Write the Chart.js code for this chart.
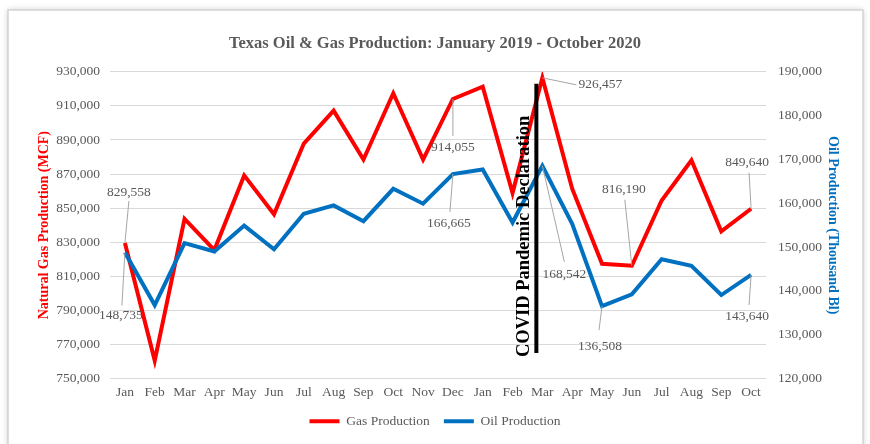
<!DOCTYPE html>
<html>
<head>
<meta charset="utf-8">
<title>Texas Oil & Gas Production</title>
<script src="https://cdn.jsdelivr.net/npm/chart.js@4.4.1/dist/chart.umd.min.js"></script>
<style>
  html, body { margin: 0; padding: 0; background: #fff; }
  #chart { display: block; }
</style>
</head>
<body>
<canvas id="chart" width="870" height="444"></canvas>
<script>
// # Texas oil & gas production, Jan 2019 - Oct 2020

const months = ['Jan', 'Feb', 'Mar', 'Apr', 'May', 'Jun', 'Jul', 'Aug', 'Sep', 'Oct', 'Nov', 'Dec',
    'Jan', 'Feb', 'Mar', 'Apr', 'May', 'Jun', 'Jul', 'Aug', 'Sep', 'Oct'];

// natural gas, MCF (left axis)
const gasProduction = [829558, 760500, 843700, 825400, 869200, 846400, 887900, 907200, 878500, 917400, 878500, 914055,
    921300, 858900, 926457, 861400, 817300, 816190, 854500, 878100, 836400, 849640];

// oil, thousand barrels (right axis)
const oilProduction = [148735, 136750, 150900, 149000, 154900, 149500, 157600, 159500, 155900, 163300, 159900, 166665,
    167700, 155600, 168542, 155300, 136508, 139200, 147200, 145700, 139050, 143640];

// points that carry a value label
const gasLabelled = [0, 11, 14, 17, 21];
const oilLabelled = [0, 11, 14, 16, 21];

// covid marker sits just before Mar 2020
const covidIndex = 14;
const covidText = 'COVID Pandemic Declaration';

const grey = '#595959';
const serif = 'Liberation Serif';

// label placement relative to its point: [labelDx, labelDy, leaderDx, leaderDy]
const gasLabelPos = {
    0: [4, -50, 4, -42],
    11: [0, 48, 0, 37],
    14: [58, 7, 34, 7],
    17: [-8, -76, -7, -66],
    21: [-4, -46, -2, -36]
};
const oilLabelPos = {
    0: [-4, 63, -3, 53],
    11: [-4, 49, -3, 38],
    14: [22, 109, 22, 96],
    16: [-2, 40, -3, 24],
    21: [-4, 42, -2, 30]
};

const fmt = v => Number(v).toLocaleString('en-US');

// white card with soft frame behind the chart
const framePlugin = {
    id: 'frame',
    beforeDraw(chart) {
        const c = chart.ctx;
        c.save();
        c.fillStyle = '#ffffff';
        c.fillRect(0, 0, chart.width, chart.height);
        c.shadowColor = 'rgba(0,0,0,0.22)';
        c.shadowBlur = 6;
        c.fillRect(8, 10, 855, 450);
        c.shadowBlur = 0;
        c.strokeStyle = '#d4d4d4';
        c.lineWidth = 1.5;
        c.strokeRect(8, 10, 855, 450);
        c.restore();
    }
};

// callout labels with leader lines + covid marker
const annotatePlugin = {
    id: 'annotate',
    afterDatasetsDraw(chart) {
        const c = chart.ctx;
        c.save();
        c.font = '13.5px "' + serif + '"';
        c.textAlign = 'center';
        c.textBaseline = 'middle';

        const drawSet = (dsIndex, idxs, pos, values) => {
            const meta = chart.getDatasetMeta(dsIndex);
            idxs.forEach(i => {
                const pt = meta.data[i];
                const p = pos[i];
                c.strokeStyle = '#a6a6a6';
                c.lineWidth = 1;
                c.beginPath();
                c.moveTo(pt.x, pt.y);
                c.lineTo(pt.x + p[2], pt.y + p[3]);
                c.stroke();
                c.fillStyle = grey;
                c.fillText(fmt(values[i]), pt.x + p[0], pt.y + p[1]);
            });
        };
        drawSet(0, gasLabelled, gasLabelPos, gasProduction);
        drawSet(1, oilLabelled, oilLabelPos, oilProduction);

        // vertical covid line
        const x = chart.scales.x.getPixelForValue(covidIndex) - 6;
        const yTop = chart.scales.yGas.getPixelForValue(923000);
        const yBot = chart.scales.yGas.getPixelForValue(765000);
        c.strokeStyle = '#000';
        c.lineWidth = 4;
        c.beginPath();
        c.moveTo(x, yTop);
        c.lineTo(x, yBot);
        c.stroke();

        c.translate(x - 12, (yTop + yBot) / 2 + 18);
        c.rotate(-Math.PI / 2);
        c.font = 'bold 18.5px "' + serif + '"';
        c.fillStyle = '#000';
        c.fillText(covidText, 0, 0);
        c.restore();
    }
};

const ctx = document.getElementById('chart').getContext('2d');
let chart = new Chart(ctx, {
    type: 'line',
    data: {
        labels: months,
        datasets: [{
            label: 'Gas Production',
            data: gasProduction,
            yAxisID: 'yGas',
            borderColor: '#ff0000',
            backgroundColor: '#ff0000',
            borderWidth: 4,
            pointRadius: 0,
            tension: 0,
            order: 1
        }, {
            label: 'Oil Production',
            data: oilProduction,
            yAxisID: 'yOil',
            borderColor: '#0070c0',
            backgroundColor: '#0070c0',
            borderWidth: 4,
            pointRadius: 0,
            tension: 0,
            order: 0
        }]
    },
    options: {
        responsive: false,
        animation: false,
        devicePixelRatio: 1,
        layout: { padding: { left: 0, right: 0, top: 0, bottom: 6 } },
        plugins: {
            tooltip: { enabled: false },
            title: {
                display: true,
                text: 'Texas Oil & Gas Production: January 2019 - October 2020',
                color: grey,
                font: { family: serif, size: 16.5, weight: 'bold' },
                padding: { top: 34, bottom: 18 }
            },
            legend: {
                position: 'bottom',
                labels: {
                    usePointStyle: true,
                    pointStyle: 'line',
                    pointStyleWidth: 30,
                    color: grey,
                    font: { family: serif, size: 13.5 },
                    padding: 14,
                    sort: (a, b) => a.datasetIndex - b.datasetIndex
                }
            }
        },
        scales: {
            x: {
                type: 'category',
                offset: true,
                grid: { display: false, drawTicks: false },
                border: { display: false },
                ticks: {
                    color: grey,
                    font: { family: serif, size: 13.5 },
                    padding: 6,
                    maxRotation: 0,
                    autoSkip: false
                },
                afterFit(scale) { scale.height = 22; }
            },
            yGas: {
                position: 'left',
                min: 750000,
                max: 930000,
                grid: { color: '#d9d9d9', drawTicks: false },
                border: { display: false },
                ticks: {
                    stepSize: 20000,
                    color: grey,
                    font: { family: serif, size: 13.5 },
                    padding: 10,
                    callback: v => fmt(v)
                },
                title: {
                    display: true,
                    text: 'Natural Gas Production (MCF)',
                    color: '#ff0000',
                    font: { family: serif, size: 14, weight: 'bold' },
                    padding: { top: 36, bottom: 0 }
                },
                afterFit(scale) { scale.width = 110; }
            },
            yOil: {
                position: 'right',
                min: 120000,
                max: 190000,
                grid: { display: false, drawTicks: false },
                border: { display: false },
                ticks: {
                    stepSize: 10000,
                    color: grey,
                    font: { family: serif, size: 13.5 },
                    padding: 12,
                    callback: v => fmt(v)
                },
                title: {
                    display: true,
                    text: 'Oil Production (Thousand Bl)',
                    color: '#0070c0',
                    font: { family: serif, size: 14, weight: 'bold' },
                    padding: { top: 29, bottom: 0 }
                },
                afterFit(scale) { scale.width = 104; }
            }
        }
    },
    plugins: [framePlugin, annotatePlugin]
});
</script>
</body>
</html>
